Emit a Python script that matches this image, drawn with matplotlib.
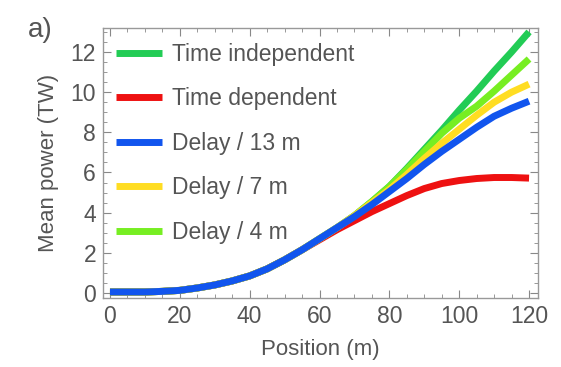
import matplotlib
matplotlib.use("Agg")
import matplotlib.pyplot as plt
from matplotlib.ticker import MultipleLocator

plt.rcParams['font.family'] = ['Liberation Sans', 'DejaVu Sans']

# Position (m)
pos = [0, 5, 10, 15, 20, 25, 30, 35, 40, 45, 50, 55, 60, 65, 70, 75, 80, 85, 90, 95, 100, 105, 110, 115, 120]

# mean power (TW)
common = [0.05, 0.05, 0.05, 0.08, 0.13, 0.25, 0.4, 0.6, 0.85, 1.2, 1.65, 2.15, 2.7]
time_indep = common + [3.25, 3.85, 4.55, 5.3, 6.2, 7.15, 8.1, 9.1, 10.05, 11.05, 12.0, 13.0]
time_dep = common[:-1] + [2.65, 3.15, 3.6, 4.05, 4.45, 4.85, 5.2, 5.45, 5.6, 5.7, 5.75, 5.75, 5.72]
delay_13 = common + [3.25, 3.8, 4.4, 5.05, 5.7, 6.4, 7.05, 7.65, 8.25, 8.8, 9.2, 9.55]
delay_7 = common + [3.25, 3.85, 4.5, 5.15, 5.9, 6.7, 7.45, 8.15, 8.85, 9.5, 10.0, 10.4]
delay_4 = common + [3.25, 3.85, 4.55, 5.3, 6.15, 7.05, 7.95, 8.7, 9.3, 10.05, 10.85, 11.65]

fig = plt.figure(figsize=(5.61, 3.67), dpi=100)
ax = fig.add_axes([0.1836, 0.188, 0.775, 0.736])

lw = 5
l1, = ax.plot(pos, time_indep, color='#22cc55', lw=lw, solid_capstyle='butt')
l2, = ax.plot(pos, time_dep, color='#ee1111', lw=lw, solid_capstyle='butt')
l5, = ax.plot(pos, delay_4, color='#77ee22', lw=lw, solid_capstyle='butt')
l4, = ax.plot(pos, delay_7, color='#ffdd22', lw=lw, solid_capstyle='butt')
l3, = ax.plot(pos, delay_13, color='#1155ee', lw=lw, solid_capstyle='butt')

ax.set_xlim(-2, 122.5)
ax.set_ylim(-0.25, 13.2)

ax.xaxis.set_major_locator(MultipleLocator(20))
ax.xaxis.set_minor_locator(MultipleLocator(5))
ax.yaxis.set_major_locator(MultipleLocator(2))
ax.yaxis.set_minor_locator(MultipleLocator(0.5))
ax.tick_params(which='both', direction='in', top=True, right=True,
               color='#888888', labelcolor='#555555', labelsize=16.5)
ax.tick_params(which='major', length=6, width=0.8, pad=5)
ax.tick_params(which='minor', length=3, width=0.6)
for s in ax.spines.values():
    s.set_color('#999999')
    s.set_linewidth(1.0)

ax.set_xlabel('Position (m)', fontsize=16, color='#555555', labelpad=8)
ax.set_ylabel('Mean power (TW)', fontsize=16, color='#555555', labelpad=8)

leg = ax.legend([l1, l2, l3, l4, l5],
                ['Time independent', 'Time dependent', 'Delay / 13 m', 'Delay / 7 m', 'Delay / 4 m'],
                loc='upper left', bbox_to_anchor=(0.03, 0.945), frameon=False,
                fontsize=16.5, handlelength=2.0, handletextpad=0.45,
                labelspacing=0.94, borderpad=0, borderaxespad=0)
for t in leg.get_texts():
    t.set_color('#555555')

fig.text(0.05, 0.9, 'a)', fontsize=20, color='#555555')

fig.savefig('out.png', dpi=100)
